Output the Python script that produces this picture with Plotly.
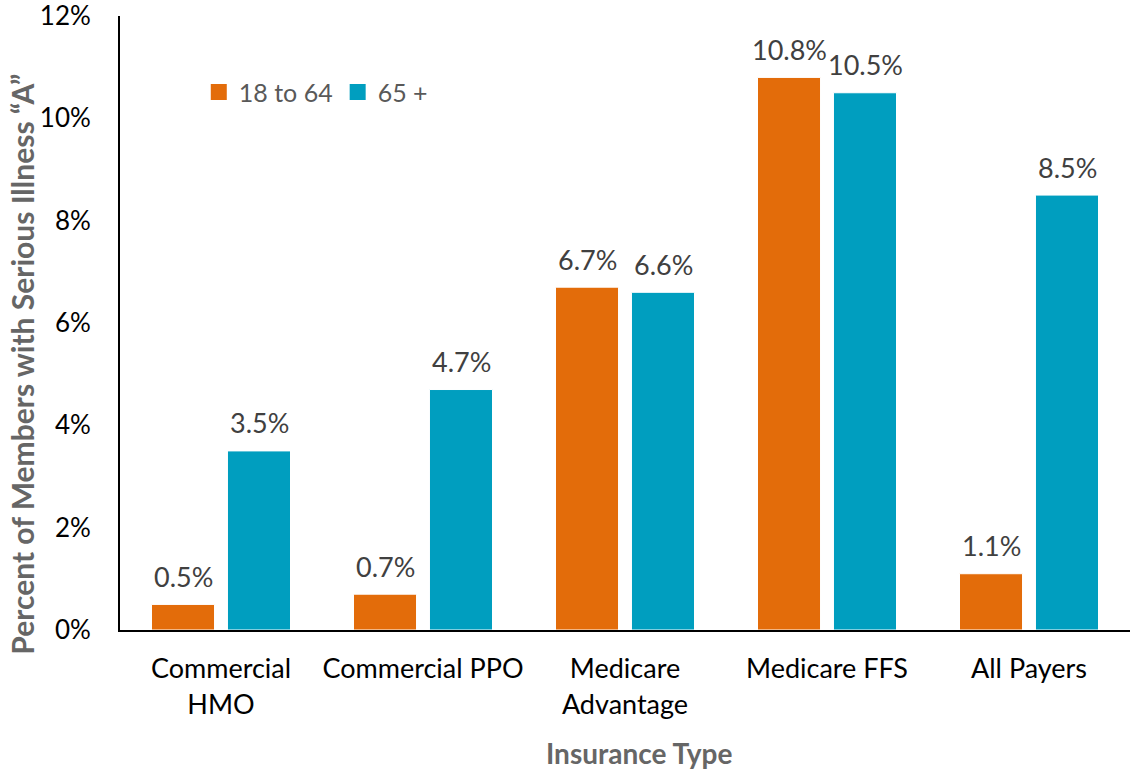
import plotly.graph_objects as go

# Share of members with serious illness, by insurance type and age band
categories = ["Commercial<br>HMO", "Commercial PPO", "Medicare<br>Advantage", "Medicare FFS", "All Payers"]
age_18_64 = [0.5, 0.7, 6.7, 10.8, 1.1]
age_65_plus = [3.5, 4.7, 6.6, 10.5, 8.5]
series_names = ["18 to 64", "65 +"]
y_ticks = [0, 2, 4, 6, 8, 10, 12]
y_tick_labels = [f"{v}%" for v in y_ticks]

FONT = "Lato, Open Sans, sans-serif"
ORANGE = "#E36C0A"
TEAL = "#009EBF"
LABEL_SIZE = 27

fig = go.Figure()
series = [(series_names[0], age_18_64, ORANGE, -38), (series_names[1], age_65_plus, TEAL, 38)]
annotations = []
for name, vals, color, dx in series:
    fig.add_trace(go.Bar(
        name=name,
        x=categories,
        y=vals,
        marker=dict(color=color, line=dict(color="white", width=1)),
        showlegend=False,
    ))
    # legend swatch: a larger square marker than the default bar key
    fig.add_trace(go.Scatter(
        name=name,
        x=[None], y=[None],
        mode="markers",
        marker=dict(symbol="square", size=17, color=color),
        showlegend=True,
    ))
    # value labels floating above each bar
    for cat, v in zip(categories, vals):
        annotations.append(dict(
            x=cat, y=v, xref="x", yref="y",
            text=f"{v:.1f}%", showarrow=False,
            xanchor="center", yanchor="middle",
            xshift=dx, yshift=28,
            font=dict(family=FONT, size=LABEL_SIZE, color="#404040"),
        ))

annotations += [
    dict(
        text="<b>Percent of Members with Serious Illness \u201cA\u201d</b>",
        xref="paper", yref="paper",
        x=-0.0965, y=0.433,
        xanchor="center", yanchor="middle",
        textangle=-90, showarrow=False,
        font=dict(family=FONT, size=30, color="#666666"),
    ),
    dict(
        text="<b>Insurance Type</b>",
        xref="paper", yref="paper",
        x=0.514, y=-0.201,
        xanchor="center", yanchor="middle",
        showarrow=False,
        font=dict(family=FONT, size=28, color="#666666"),
    ),
]

fig.update_layout(
    width=1134,
    height=771,
    margin=dict(l=120, r=4, t=16, b=141, autoexpand=False),
    paper_bgcolor="white",
    plot_bgcolor="white",
    barmode="group",
    bargap=0.248,
    bargroupgap=0.17,
    showlegend=True,
    legend=dict(
        orientation="h",
        x=0.078, y=0.876,
        xanchor="left", yanchor="middle",
        font=dict(family=FONT, size=25, color="#595959"),
        itemwidth=30,
        bgcolor="rgba(0,0,0,0)",
    ),
    font=dict(family=FONT),
    xaxis=dict(
        showline=True, linecolor="black", linewidth=2,
        showgrid=False, ticks="", automargin=False,
        tickfont=dict(family=FONT, size=LABEL_SIZE, color="black"),
        ticklabelstandoff=14,
    ),
    yaxis=dict(
        range=[0, 12],
        tickvals=y_ticks,
        ticktext=y_tick_labels,
        showline=True, linecolor="black", linewidth=2,
        showgrid=False, ticks="", zeroline=False, automargin=False,
        tickfont=dict(family=FONT, size=26, color="black"),
        ticklabelstandoff=22,
        ticklabeloverflow="allow",
    ),
    annotations=annotations,
)

fig.write_html("out.html")
